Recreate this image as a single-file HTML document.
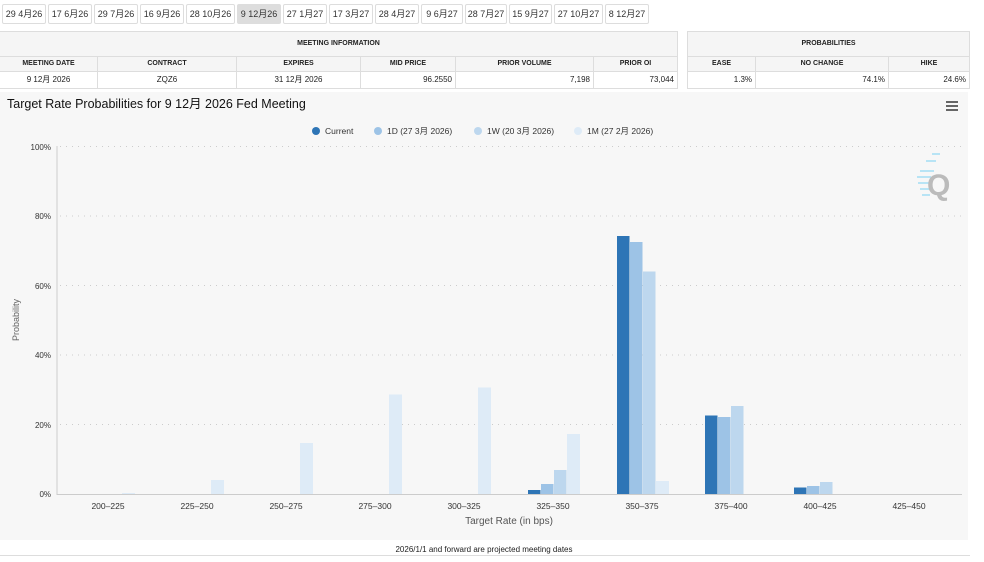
<!DOCTYPE html>
<html><head><meta charset="utf-8"><style>
body{margin:0;width:984px;height:562px;background:#fff;font-family:"Liberation Sans","Noto Sans CJK SC",sans-serif;position:relative;overflow:hidden}
.tab{position:absolute;top:4px;height:18px;border:1px solid #ddd;border-radius:2px;font-size:9px;line-height:18px;text-align:center;color:#333;background:#fff}
.tab.on{background:#ddd}
.c{position:absolute;box-sizing:border-box;border:1px solid #ddd;font-size:8px;color:#222;overflow:hidden;white-space:nowrap;padding:0 3px}
.h{background:#f5f5f5;font-weight:bold;font-size:7px;text-align:center}
</style></head><body>
<div class="tab" style="left:2px;width:42px">29 4月26</div>
<div class="tab" style="left:48px;width:42px">17 6月26</div>
<div class="tab" style="left:94px;width:42px">29 7月26</div>
<div class="tab" style="left:140px;width:42px">16 9月26</div>
<div class="tab" style="left:186px;width:47px">28 10月26</div>
<div class="tab on" style="left:237px;width:42px">9 12月26</div>
<div class="tab" style="left:283px;width:42px">27 1月27</div>
<div class="tab" style="left:329px;width:42px">17 3月27</div>
<div class="tab" style="left:375px;width:42px">28 4月27</div>
<div class="tab" style="left:421px;width:40px">9 6月27</div>
<div class="tab" style="left:465px;width:40px">28 7月27</div>
<div class="tab" style="left:509px;width:41px">15 9月27</div>
<div class="tab" style="left:554px;width:47px">27 10月27</div>
<div class="tab" style="left:605px;width:42px">8 12月27</div>

<div class="c h" style="left:-1px;top:31px;width:679px;height:26px;line-height:24px">MEETING INFORMATION</div>
<div class="c h" style="left:-1px;top:56px;width:99px;height:16px;line-height:14px">MEETING DATE</div>
<div class="c h" style="left:97px;top:56px;width:140px;height:16px;line-height:14px">CONTRACT</div>
<div class="c h" style="left:236px;top:56px;width:125px;height:16px;line-height:14px">EXPIRES</div>
<div class="c h" style="left:360px;top:56px;width:96px;height:16px;line-height:14px">MID PRICE</div>
<div class="c h" style="left:455px;top:56px;width:139px;height:16px;line-height:14px">PRIOR VOLUME</div>
<div class="c h" style="left:593px;top:56px;width:85px;height:16px;line-height:14px">PRIOR OI</div>
<div class="c" style="left:-1px;top:71px;width:99px;height:18px;line-height:16px;text-align:center">9 12月 2026</div>
<div class="c" style="left:97px;top:71px;width:140px;height:18px;line-height:16px;text-align:center">ZQZ6</div>
<div class="c" style="left:236px;top:71px;width:125px;height:18px;line-height:16px;text-align:center">31 12月 2026</div>
<div class="c" style="left:360px;top:71px;width:96px;height:18px;line-height:16px;text-align:right">96.2550</div>
<div class="c" style="left:455px;top:71px;width:139px;height:18px;line-height:16px;text-align:right">7,198</div>
<div class="c" style="left:593px;top:71px;width:85px;height:18px;line-height:16px;text-align:right">73,044</div>

<div class="c h" style="left:687px;top:31px;width:283px;height:26px;line-height:24px">PROBABILITIES</div>
<div class="c h" style="left:687px;top:56px;width:69px;height:16px;line-height:14px">EASE</div>
<div class="c h" style="left:755px;top:56px;width:134px;height:16px;line-height:14px">NO CHANGE</div>
<div class="c h" style="left:888px;top:56px;width:82px;height:16px;line-height:14px">HIKE</div>
<div class="c" style="left:687px;top:71px;width:69px;height:18px;line-height:16px;text-align:right">1.3%</div>
<div class="c" style="left:755px;top:71px;width:134px;height:18px;line-height:16px;text-align:right">74.1%</div>
<div class="c" style="left:888px;top:71px;width:82px;height:18px;line-height:16px;text-align:right">24.6%</div>

<svg style="position:absolute;left:0;top:0" width="984" height="562">
<rect x="0" y="92" width="968" height="448" fill="#f7f7f7"/>
<text x="7" y="108" font-size="12.5" fill="#111">Target Rate Probabilities for 9 12月 2026 Fed Meeting</text>
<g fill="#666"><rect x="946" y="101" width="12" height="2"/><rect x="946" y="105" width="12" height="2"/><rect x="946" y="109" width="12" height="2"/></g>
<g font-size="8.5" fill="#333">
<circle cx="316" cy="131" r="4" fill="#2e75b6"/><text x="325" y="134">Current</text>
<circle cx="378" cy="131" r="4" fill="#9dc3e6"/><text x="387" y="134">1D (27 3月 2026)</text>
<circle cx="478" cy="131" r="4" fill="#bdd7ee"/><text x="487" y="134">1W (20 3月 2026)</text>
<circle cx="578" cy="131" r="4" fill="#deebf7"/><text x="587" y="134">1M (27 2月 2026)</text>
</g>
<g stroke="#ccc" stroke-dasharray="1,5">
<line x1="60" x2="962" y1="146.5" y2="146.5"/><line x1="60" x2="962" y1="216" y2="216"/><line x1="60" x2="962" y1="285.5" y2="285.5"/><line x1="60" x2="962" y1="355" y2="355"/><line x1="60" x2="962" y1="424.5" y2="424.5"/>
</g>
<line x1="57" y1="146" x2="57" y2="495" stroke="#ccc"/>
<line x1="57" y1="494.5" x2="962" y2="494.5" stroke="#ccc"/>
<g font-size="8" fill="#333" text-anchor="end">
<text x="51" y="150">100%</text><text x="51" y="219">80%</text><text x="51" y="289">60%</text><text x="51" y="358">40%</text><text x="51" y="428">20%</text><text x="51" y="497">0%</text>
</g>
<text transform="translate(19,320) rotate(-90)" font-size="9" fill="#666" text-anchor="middle">Probability</text>
<g font-size="8.5" fill="#333" text-anchor="middle">
<text x="108" y="509">200–225</text><text x="197" y="509">225–250</text><text x="286" y="509">250–275</text><text x="375" y="509">275–300</text><text x="464" y="509">300–325</text><text x="553" y="509">325–350</text><text x="642" y="509">350–375</text><text x="731" y="509">375–400</text><text x="820" y="509">400–425</text><text x="909" y="509">425–450</text>
</g>
<text x="509" y="524" font-size="10" fill="#555" text-anchor="middle">Target Rate (in bps)</text>
<g>
<rect x="122" y="493" width="13" height="1" fill="#deebf7"/>
<rect x="211" y="480" width="13" height="14" fill="#deebf7"/>
<rect x="300" y="443" width="13" height="51" fill="#deebf7"/>
<rect x="389" y="394.5" width="13" height="99.5" fill="#deebf7"/>
<rect x="478" y="387.5" width="13" height="106.5" fill="#deebf7"/>
<rect x="567" y="434" width="13" height="60" fill="#deebf7"/>
<rect x="656" y="481" width="13" height="13" fill="#deebf7"/>
<rect x="528" y="490" width="12.5" height="4" fill="#2e75b6"/>
<rect x="541" y="484" width="12.5" height="10" fill="#9dc3e6"/>
<rect x="554" y="470" width="12.5" height="24" fill="#bdd7ee"/>
<rect x="617" y="236" width="12.5" height="258" fill="#2e75b6"/>
<rect x="630" y="242" width="12.5" height="252" fill="#9dc3e6"/>
<rect x="643" y="271.5" width="12.5" height="222.5" fill="#bdd7ee"/>
<rect x="705" y="415.5" width="12.5" height="78.5" fill="#2e75b6"/>
<rect x="718" y="417" width="12.5" height="77" fill="#9dc3e6"/>
<rect x="731" y="406" width="12.5" height="88" fill="#bdd7ee"/>
<rect x="794" y="487.5" width="12.5" height="6.5" fill="#2e75b6"/>
<rect x="807" y="486" width="12.5" height="8" fill="#9dc3e6"/>
<rect x="820" y="482" width="12.5" height="12" fill="#bdd7ee"/>
</g>
<g fill="#b8e4f5"><rect x="920" y="170" width="14" height="2"/><rect x="917" y="176" width="14" height="2"/><rect x="918" y="182" width="12" height="2"/><rect x="920" y="188" width="10" height="2"/><rect x="922" y="194" width="8" height="2"/><rect x="926" y="160" width="10" height="2"/><rect x="932" y="153" width="8" height="2"/></g>
<text x="927" y="195" font-size="30" font-weight="bold" fill="#bbb">Q</text>
<text x="484" y="552" font-size="8" fill="#222" text-anchor="middle">2026/1/1 and forward are projected meeting dates</text>
<line x1="0" y1="555.5" x2="970" y2="555.5" stroke="#ddd"/>
</svg>
</body></html>
